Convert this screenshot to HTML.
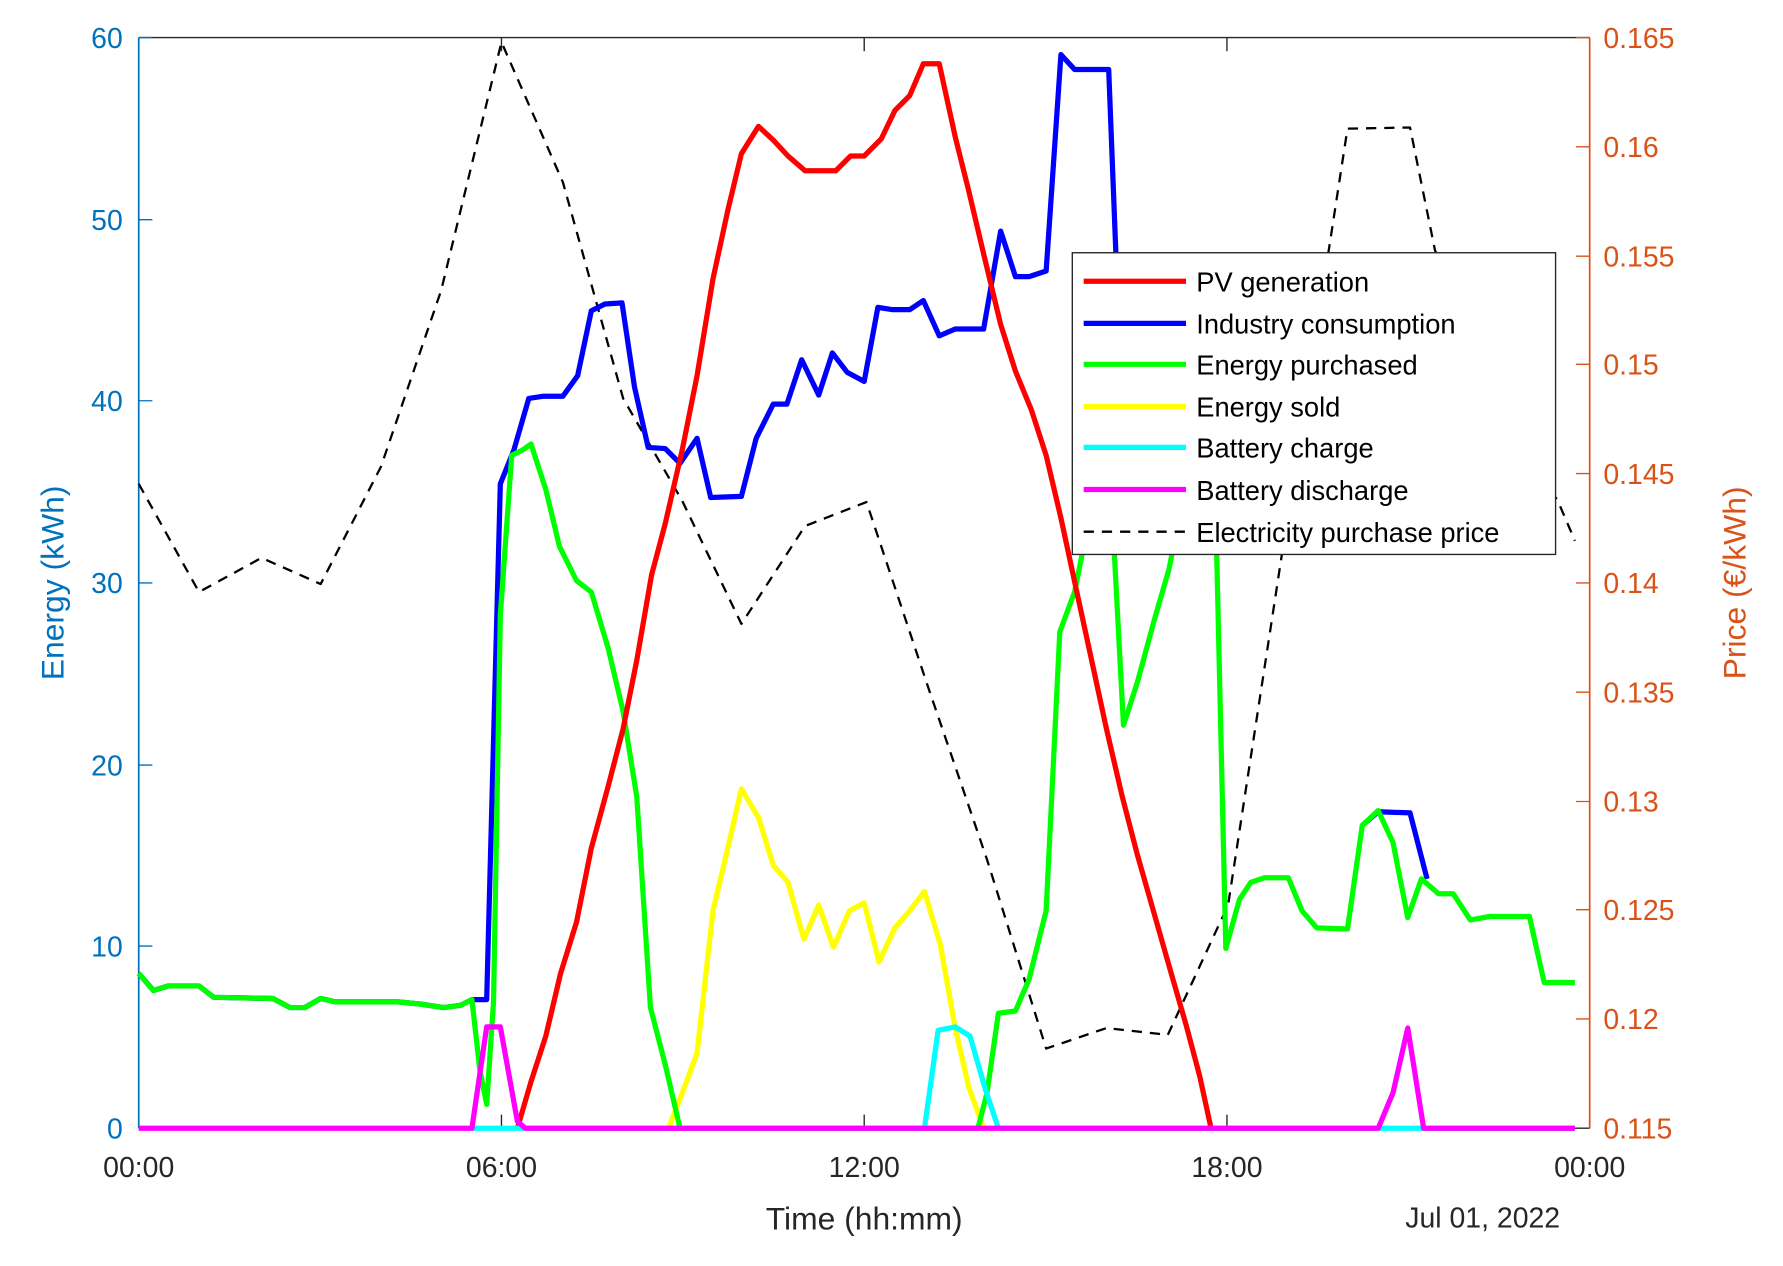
<!DOCTYPE html>
<html><head><meta charset="utf-8"><style>html,body{margin:0;padding:0;background:#fff}svg{display:block}</style></head>
<body>
<svg width="1783" height="1266" viewBox="0 0 1568 1112" preserveAspectRatio="none" xmlns="http://www.w3.org/2000/svg" font-family="Liberation Sans, sans-serif">
<rect width="1568" height="1112" fill="#fff"/>
<g fill="none" stroke-linejoin="round">
<line x1="122" y1="33" x2="1398" y2="33" stroke="#262626" stroke-width="1.2"/>
<line x1="122" y1="991" x2="1398" y2="991" stroke="#262626" stroke-width="1.2"/>
<line x1="122" y1="33" x2="122" y2="991" stroke="#0072BD" stroke-width="1.5"/>
<line x1="1398" y1="33" x2="1398" y2="991" stroke="#D95319" stroke-width="1.5"/>
<g stroke="#0072BD" stroke-width="1.2"><path d="M122 33h12M122 193h12M122 352h12M122 512h12M122 672h12M122 831h12"/></g>
<g stroke="#D95319" stroke-width="1.2"><path d="M1398 33h-12M1398 129h-12M1398 225h-12M1398 320h-12M1398 416h-12M1398 512h-12M1398 608h-12M1398 704h-12M1398 799h-12M1398 895h-12"/></g>
<g stroke="#262626" stroke-width="1.2"><path d="M441 991v-12M760 991v-12M1079 991v-12M441 33v12M760 33v12M1079 33v12"/></g>
<polyline stroke="#000" stroke-width="2" stroke-dasharray="9,7" points="122,425 175,520 230,490 282,513 335,410 388,255 441,37 495,160 548,350 600,440 652,548 708,462 762,441 815,600 868,755 920,921 973,903 1027,909 1080,795 1133,450 1185,113 1240,112 1262,220 1330,380 1370,440 1385,475"/>
<polyline stroke="#FFFF00" stroke-width="4.6" points="588,991 600,960 613,925 627,800 640,745 652,693 667,718 680,760 693,775 707,825 720,795 733,832 747,800 760,793 773,845 787,815 800,800 813,783 827,830 840,903 852,955 865,991"/>
<polyline stroke="#0000FF" stroke-width="4.6" points="122,855 135,870 148,866 175,866 188,876 240,877 255,885 268,885 282,877 295,880 350,880 370,882 390,885 405,883 415,878 428,878 440,425 452,395 465,350 478,348 495,348 508,330 520,273 532,267 547,266 558,340 570,393 585,394 598,407 613,385 625,437 652,436 665,385 680,355 692,355 705,316 720,347 732,310 745,327 760,335 772,270 785,272 800,272 812,264 826,295 840,289 865,289 880,203 893,243 905,243 920,238 933,48 945,61 960,61 975,61 982,240"/>
<polyline stroke="#0000FF" stroke-width="4.6" points="1198,725 1212,713 1240,714 1255,772"/>
<polyline stroke="#00FF00" stroke-width="4.6" points="122,855 135,870 148,866 175,866 188,876 240,877 255,885 268,885 282,877 295,880 350,880 370,882 390,885 405,883 415,878 422,940 428,970 434,880 440,540 450,400 460,395 467,390 480,430 492,480 507,510 520,520 535,570 548,625 560,700 572,885 585,935 598,991 860,991 868,960 878,890 893,888 905,860 920,800 932,555 945,520 953,480 965,380 975,440 980,487 988,637 1000,600 1015,545 1028,500 1040,440 1060,440 1070,487 1078,833 1090,790 1100,775 1112,771 1133,771 1145,800 1158,815 1185,816 1198,725 1212,712 1225,740 1238,806 1250,772 1265,785 1278,785 1293,808 1310,805 1323,805 1345,805 1358,863 1385,863"/>
<polyline stroke="#FF0000" stroke-width="4.6" points="455,991 467,950 480,910 493,855 507,810 520,745 535,690 548,640 560,580 573,505 585,460 600,395 613,330 627,245 640,185 652,135 667,111 680,123 693,137 708,150 735,150 748,137 760,137 775,122 787,97 800,84 812,56 826,56 840,120 852,168 865,223 880,285 893,326 907,360 920,400 933,455 947,520 960,580 973,640 987,700 1000,750 1010,785 1030,855 1043,900 1055,945 1065,991"/>
<polyline stroke="#00FFFF" stroke-width="4.6" points="415,991 813,991 825,905 840,902 853,910 866,955 878,991 1385,991"/>
<polyline stroke="#FF00FF" stroke-width="4.6" points="122,991 415,991 428,902 440,902 455,985 462,991 813,991 878,991 1212,991 1225,960 1238,903 1252,991 1385,991"/>
</g>
<rect x="943" y="222" width="425" height="265" fill="#fff" stroke="#262626" stroke-width="1.2"/>
<g stroke-width="4.6">
<line x1="953" y1="247" x2="1043" y2="247" stroke="#FF0000"/>
<line x1="953" y1="284" x2="1043" y2="284" stroke="#0000FF"/>
<line x1="953" y1="320" x2="1043" y2="320" stroke="#00FF00"/>
<line x1="953" y1="357" x2="1043" y2="357" stroke="#FFFF00"/>
<line x1="953" y1="393" x2="1043" y2="393" stroke="#00FFFF"/>
<line x1="953" y1="430" x2="1043" y2="430" stroke="#FF00FF"/>
<line x1="953" y1="467" x2="1043" y2="467" stroke="#000" stroke-width="2" stroke-dasharray="9,7"/>
</g>
<g font-size="24" fill="#000">
<text x="1052" y="256">PV generation</text>
<text x="1052" y="293">Industry consumption</text>
<text x="1052" y="329">Energy purchased</text>
<text x="1052" y="366">Energy sold</text>
<text x="1052" y="402">Battery charge</text>
<text x="1052" y="439">Battery discharge</text>
<text x="1052" y="476">Electricity purchase price</text>
</g>
<g font-size="25" fill="#0072BD" text-anchor="end">
<text x="108" y="42">60</text><text x="108" y="202">50</text><text x="108" y="361">40</text>
<text x="108" y="521">30</text><text x="108" y="681">20</text><text x="108" y="840">10</text><text x="108" y="1000">0</text>
</g>
<text transform="translate(56,512) rotate(-90)" font-size="28" fill="#0072BD" text-anchor="middle">Energy (kWh)</text>
<g font-size="25" fill="#D95319">
<text x="1410" y="42">0.165</text><text x="1410" y="138">0.16</text><text x="1410" y="234">0.155</text>
<text x="1410" y="329">0.15</text><text x="1410" y="425">0.145</text><text x="1410" y="521">0.14</text>
<text x="1410" y="617">0.135</text><text x="1410" y="713">0.13</text><text x="1410" y="808">0.125</text>
<text x="1410" y="904">0.12</text><text x="1410" y="1000">0.115</text>
</g>
<text transform="translate(1535,512) rotate(-90)" font-size="28" fill="#D95319" text-anchor="middle">Price (€/kWh)</text>
<g font-size="25" fill="#262626" text-anchor="middle">
<text x="122" y="1034">00:00</text><text x="441" y="1034">06:00</text><text x="760" y="1034">12:00</text>
<text x="1079" y="1034">18:00</text><text x="1398" y="1034">00:00</text>
</g>
<text x="760" y="1080" font-size="28" fill="#262626" text-anchor="middle">Time (hh:mm)</text>
<text x="1372" y="1078" font-size="25" fill="#262626" text-anchor="end">Jul 01, 2022</text>
</svg>
</body></html>
